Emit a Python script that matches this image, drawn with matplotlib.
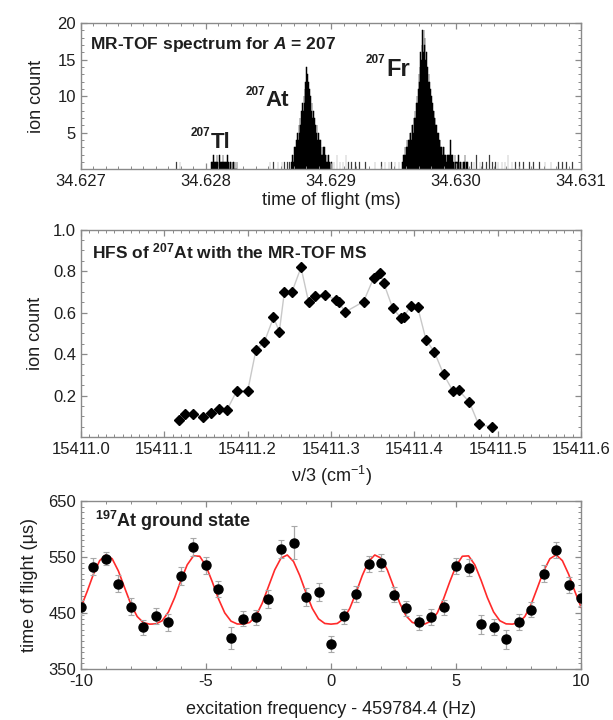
import numpy as np
import matplotlib
matplotlib.use("Agg")
import matplotlib.pyplot as plt
from matplotlib.ticker import MultipleLocator, FixedLocator, FormatStrFormatter

plt.rcParams['font.family'] = ['Liberation Sans', 'DejaVu Sans']
plt.rcParams['axes.unicode_minus'] = False
plt.rcParams['mathtext.fontset'] = 'custom'
plt.rcParams['mathtext.rm'] = 'Liberation Sans'
plt.rcParams['mathtext.it'] = 'Liberation Sans:italic'
plt.rcParams['mathtext.bf'] = 'Liberation Sans:bold'
plt.rcParams['mathtext.bfit'] = 'Liberation Sans:bold:italic'

# ---------------- MR-TOF spectrum (A = 207) ----------------
bin_w = 5e-6  # ms
tl_start = 34.62804
tl_counts = [1, 0, 1, 1, 2, 1, 0, 1, 1, 2, 1, 1, 0, 2, 1, 1, 1, 0, 1, 2, 1,
             1, 0, 1, 1, 0, 2, 1, 1, 0, 1, 1, 0, 1, 0, 1, 1, 0, 1, 0, 0, 1]
at_start = 34.62868
at_counts = [1, 0, 2, 1, 2, 3, 2, 3, 4, 3, 5, 4, 6, 5, 7, 6, 8, 7, 9, 8, 10, 9,
             11, 12, 14, 11, 13, 12, 10, 11, 9, 10, 8, 9, 7, 8, 6, 7, 5, 6, 5, 6,
             4, 5, 3, 4, 3, 4, 2, 3, 2, 3, 2, 3, 1, 2, 1, 2, 1, 2, 0, 1, 1, 0, 1, 0]
fr_start = 34.62957
fr_counts = [1, 2, 1, 2, 3, 2, 3, 4, 3, 4, 3, 4, 5, 5, 4, 6, 6, 5, 7, 7, 8, 7,
             9, 10, 9, 11, 13, 12, 14, 16, 15, 17, 19, 16, 19, 17, 18, 15, 16, 14,
             14, 12, 13, 12, 10, 11, 10, 9, 9, 8, 8, 7, 7, 6, 6, 5, 5, 5, 4, 4, 4,
             3, 3, 3, 2, 3, 3, 2, 2, 2, 1, 2, 2, 2, 1, 2, 1, 4, 2, 1, 2, 1, 1, 0,
             2, 1, 1, 0, 1, 2, 1, 0, 1, 1, 0, 1, 0, 1, 0, 1, 2, 0, 1, 0, 1, 0]
bg_times = [34.62776, 34.62779, 34.62851, 34.62854, 34.628575, 34.628606,
            34.628625, 34.628647, 34.628663, 34.62902, 34.629044, 34.629069,
            34.629094, 34.629116, 34.629138, 34.629163, 34.629194, 34.629225,
            34.629272, 34.62935, 34.6294, 34.62943, 34.62946, 34.62948,
            34.62951, 34.62954, 34.63012, 34.63014, 34.63016, 34.630188,
            34.630209, 34.630241, 34.630263, 34.630288, 34.630313, 34.630334,
            34.630366, 34.630388, 34.630413, 34.630444, 34.630475, 34.630506,
            34.630538, 34.630584, 34.630616, 34.630663, 34.630709, 34.630756,
            34.630819, 34.63085, 34.630881, 34.630928]
bg_counts = [1, 1, 1, 1, 1, 1, 1, 1, 1, 1, 2, 1, 1, 2, 1, 1, 1, 1, 1, 1, 1, 1,
             1, 1, 1, 1, 1, 1, 2, 1, 1, 1, 2, 1, 1, 1, 1, 1, 2, 1, 1, 1, 1, 1,
             1, 1, 1, 1, 1, 1, 1, 1]

# ---------------- HFS of 207At ----------------
hfs_nu = [15411.118, 15411.125, 15411.135, 15411.146, 15411.156, 15411.166,
          15411.175, 15411.187, 15411.200, 15411.210, 15411.220, 15411.231,
          15411.238, 15411.244, 15411.253, 15411.264, 15411.273, 15411.281,
          15411.293, 15411.306, 15411.309, 15411.317, 15411.339, 15411.351,
          15411.359, 15411.363, 15411.374, 15411.384, 15411.387, 15411.396,
          15411.404, 15411.414, 15411.424, 15411.435, 15411.446, 15411.453,
          15411.466, 15411.477, 15411.493]
hfs_counts = [0.081, 0.113, 0.110, 0.097, 0.116, 0.134, 0.129, 0.223, 0.221,
              0.421, 0.458, 0.577, 0.508, 0.698, 0.698, 0.818, 0.653, 0.681,
              0.687, 0.661, 0.652, 0.603, 0.653, 0.766, 0.790, 0.745, 0.621,
              0.574, 0.580, 0.632, 0.626, 0.468, 0.410, 0.303, 0.223, 0.227,
              0.168, 0.061, 0.048]

# ---------------- 197At TOF resonance ----------------
freq = [-10.0, -9.5, -9.0, -8.5, -8.0, -7.5, -7.0, -6.5, -6.0, -5.5, -5.0,
        -4.5, -4.0, -3.5, -3.0, -2.5, -2.0, -1.5, -1.0, -0.5, 0.0, 0.5, 1.0,
        1.5, 2.0, 2.5, 3.0, 3.5, 4.0, 4.5, 5.0, 5.5, 6.0, 6.5, 7.0, 7.5, 8.0,
        8.5, 9.0, 9.5, 10.0]
tof = [460, 533, 547, 502, 461, 424, 444, 433, 516, 568, 535, 493, 405, 440,
       442, 475, 564, 576, 478, 488, 395, 444, 484, 537, 540, 483, 458, 433,
       443, 460, 534, 531, 430, 425, 403, 434, 456, 520, 563, 500, 476]
tof_err = [14, 15, 12, 15, 15, 14, 14, 15, 16, 16, 15, 15, 19, 14, 14, 16, 16,
           30, 16, 16, 14, 13, 14, 14, 15, 14, 14, 14, 14, 13, 14, 15, 17, 15,
           17, 15, 14, 15, 14, 15, 14]
fit_freq = [-10.0, -9.75, -9.5, -9.25, -9.0, -8.75, -8.5, -8.25, -8.0, -7.75,
            -7.5, -7.25, -7.0, -6.75, -6.5, -6.25, -6.0, -5.75, -5.5, -5.25,
            -5.0, -4.75, -4.5, -4.25, -4.0, -3.75, -3.5, -3.25, -3.0, -2.75,
            -2.5, -2.25, -2.0, -1.75, -1.5, -1.25, -1.0, -0.75, -0.5, -0.25,
            0.0, 0.25, 0.5, 0.75, 1.0, 1.25, 1.5, 1.75, 2.0, 2.25, 2.5, 2.75,
            3.0, 3.25, 3.5, 3.75, 4.0, 4.25, 4.5, 4.75, 5.0, 5.25, 5.5, 5.75,
            6.0, 6.25, 6.5, 6.75, 7.0, 7.25, 7.5, 7.75, 8.0, 8.25, 8.5, 8.75,
            9.0, 9.25, 9.5, 9.75, 10.0]
fit_tof = [460.1, 488.5, 519.3, 543.6, 553.9, 546.9, 524.9, 494.8, 465.3,
           443.6, 432.6, 430.0, 430.5, 436.1, 451.8, 477.6, 508.5, 536.1,
           552.1, 551.4, 534.2, 506.0, 475.3, 450.2, 435.4, 430.3, 430.1,
           433.1, 444.9, 467.4, 497.3, 527.1, 548.1, 553.7, 542.1, 516.9,
           486.1, 458.2, 439.4, 431.2, 430.0, 431.2, 439.4, 458.2, 486.1,
           516.9, 542.1, 553.7, 548.1, 527.1, 497.3, 467.4, 444.9, 433.1,
           430.1, 430.3, 435.4, 450.2, 475.3, 506.0, 534.2, 551.4, 552.1,
           536.1, 508.5, 477.6, 451.8, 436.1, 430.5, 430.0, 432.6, 443.6,
           465.3, 494.8, 524.9, 546.9, 553.9, 543.6, 519.3, 488.5, 460.1]

TXT = '#1e1e1e'
SPINE = '#8a8a8a'
TICK_FS = 12
LABEL_FS = 13


def style(ax):
    for s in ax.spines.values():
        s.set_color(SPINE)
        s.set_linewidth(1.0)
    ax.tick_params(which='both', direction='in', top=True, right=True,
                   color=SPINE, labelcolor=TXT, labelsize=TICK_FS)
    ax.tick_params(which='major', length=4, width=0.9)
    ax.tick_params(which='minor', length=2, width=0.7)


def isotope(ax, x, y, mass, sym, size, supsize):
    ax.text(x, y, sym, fontsize=size, fontweight='bold', color=TXT,
            ha='left', va='baseline')
    ax.annotate(mass, (x, y), xytext=(-0.3, size * 0.52),
                textcoords='offset points', fontsize=supsize,
                fontweight='bold', color=TXT, ha='right', va='baseline')


fig = plt.figure(figsize=(6.13, 7.20), dpi=100)
L, W = 0.132, 0.816
ax1 = fig.add_axes([L, 0.765, W, 0.203])
ax2 = fig.add_axes([L, 0.393, W, 0.288])
ax3 = fig.add_axes([L, 0.071, W, 0.233])

# --- top: histogram of flight times ---
for start, counts in ((tl_start, tl_counts), (at_start, at_counts),
                      (fr_start, fr_counts)):
    edges = start + bin_w * np.arange(len(counts))
    ax1.bar(edges, counts, width=bin_w, align='edge', color='black',
            edgecolor='black', linewidth=0.35)
ax1.bar(bg_times, bg_counts, width=bin_w, align='edge', color='#333333',
        edgecolor='#555555', linewidth=0.2)
ax1.set_xlim(34.627, 34.631)
ax1.set_ylim(0, 20)
ax1.xaxis.set_major_locator(MultipleLocator(0.001))
ax1.xaxis.set_minor_locator(MultipleLocator(0.0001))
ax1.xaxis.set_major_formatter(FormatStrFormatter('%.3f'))
ax1.yaxis.set_major_locator(FixedLocator([5, 10, 15, 20]))
ax1.yaxis.set_minor_locator(MultipleLocator(1))
style(ax1)
ax1.set_xlabel('time of flight (ms)', fontsize=LABEL_FS, color=TXT, labelpad=2)
ax1.set_ylabel('ion count', fontsize=LABEL_FS, color=TXT)
ax1.yaxis.set_label_coords(-0.072, 0.5)
ax1.text(34.62707, 17.1, r'MR-TOF spectrum for $\mathbfit{A}$ = 207',
         fontsize=12.5, fontweight='bold', color=TXT, ha='left', va='center')
isotope(ax1, 34.62944, 12.8, '207', 'Fr', 17, 8.5)
isotope(ax1, 34.628475, 8.6, '207', 'At', 16, 8.5)
isotope(ax1, 34.628037, 2.9, '207', 'Tl', 16, 8.5)

# --- middle: hyperfine structure scan ---
ax2.plot(hfs_nu, hfs_counts, color='#c8c8c8', linewidth=1.0, zorder=1)
ax2.plot(hfs_nu, hfs_counts, linestyle='none', marker='D', markersize=5.3,
         color='black', zorder=2)
ax2.set_xlim(15411.0, 15411.6)
ax2.set_ylim(0, 1.0)
ax2.xaxis.set_major_locator(FixedLocator([15411.0, 15411.1, 15411.2, 15411.3,
                                          15411.4, 15411.5, 15411.6]))
ax2.xaxis.set_minor_locator(MultipleLocator(0.01))
ax2.xaxis.set_major_formatter(FormatStrFormatter('%.1f'))
ax2.yaxis.set_major_locator(FixedLocator([0.2, 0.4, 0.6, 0.8, 1.0]))
ax2.yaxis.set_minor_locator(MultipleLocator(0.05))
ax2.yaxis.set_major_formatter(FormatStrFormatter('%.1f'))
style(ax2)
ax2.set_xlabel('\u03bd/3 (cm$^{-1}$)', fontsize=LABEL_FS, color=TXT, labelpad=5)
ax2.set_ylabel('ion count', fontsize=LABEL_FS, color=TXT)
ax2.yaxis.set_label_coords(-0.074, 0.5)
ax2.text(15411.013, 0.895, r'HFS of $^{\mathbf{207}}$At with the MR-TOF MS',
         fontsize=12.5, fontweight='bold', color=TXT, ha='left', va='center')

# --- bottom: time-of-flight resonance ---
ax3.plot(fit_freq, fit_tof, color='#ff2a2a', linewidth=1.2, zorder=2)
ax3.errorbar(freq, tof, yerr=tof_err, fmt='o', color='black', markersize=6.5,
             ecolor='#a8a8a8', elinewidth=0.9, capsize=2, capthick=0.8,
             zorder=3, clip_on=True)
ax3.set_xlim(-10, 10)
ax3.set_ylim(350, 650)
ax3.xaxis.set_major_locator(MultipleLocator(5))
ax3.xaxis.set_minor_locator(MultipleLocator(1))
ax3.yaxis.set_major_locator(FixedLocator([350, 450, 550, 650]))
ax3.yaxis.set_minor_locator(MultipleLocator(10))
style(ax3)
ax3.set_xlabel('excitation frequency - 459784.4 (Hz)', fontsize=LABEL_FS,
               color=TXT, labelpad=9)
ax3.set_ylabel('time of flight (\u00b5s)', fontsize=LABEL_FS, color=TXT)
ax3.yaxis.set_label_coords(-0.086, 0.5)
ax3.text(-9.42, 614, r'$^{\mathbf{197}}$At ground state', fontsize=13,
         fontweight='bold', color=TXT, ha='left', va='center')

fig.savefig('out.png', dpi=100)
